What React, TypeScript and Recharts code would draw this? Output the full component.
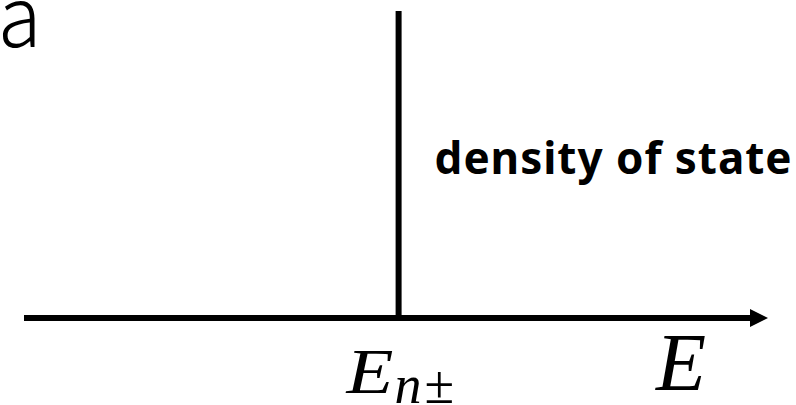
import React from 'react';
import { LineChart, Line, XAxis, YAxis, ReferenceLine } from 'recharts';

// energy axis runs from AXIS_RANGE[0] to AXIS_RANGE[1]; one sharp level sits on it
const AXIS_RANGE = [-1, 1];
const LEVEL_ENERGY = [0.007];
const LEVEL_HEIGHT = [1];

const SERIF = '"Liberation Serif", "DejaVu Serif", serif';
const SANS = '"Noto Sans", "Open Sans", sans-serif';
const STROKE = 6;
const HEAD_LEN = 18;
const HEAD_HALF = 9;

// baseline points so the chart has something to scale against
const baseline = AXIS_RANGE.map((e) => ({ e, y: 0 }));

// horizontal axis line ending in a filled arrowhead
const ArrowAxis = (props: any) => {
  const { x1, y1, x2 } = props;
  return (
    <g>
      <line x1={x1} y1={y1} x2={x2 - HEAD_LEN + 1} y2={y1} stroke="#000" strokeWidth={STROKE} />
      <polygon
        points={`${x2},${y1} ${x2 - HEAD_LEN},${y1 - HEAD_HALF} ${x2 - HEAD_LEN},${y1 + HEAD_HALF}`}
        fill="#000"
      />
    </g>
  );
};

const AxisLabel = (props: any) => {
  const vb = props.viewBox;
  if (!vb) return null;
  return (
    <text x={vb.x + vb.width - 112} y={vb.y + 72} fontFamily={SERIF} fontStyle="italic" fontSize={82} fill="#000">
      E
    </text>
  );
};

const LevelLabels = (props: any) => {
  const vb = props.viewBox;
  if (!vb) return null;
  const cx = vb.x + vb.width / 2;
  const bottom = vb.y + vb.height;
  return (
    <g>
      <text
        x={cx + 36}
        y={vb.y + 163}
        fontFamily={SANS}
        fontWeight={700}
        fontSize={44}
        textLength={357}
        lengthAdjust="spacing"
        fill="#000"
      >
        density of state
      </text>
      <text
        transform={`translate(${cx - 52},${bottom + 75}) scale(1.2,1)`}
        fontFamily={SERIF}
        fontStyle="italic"
        fontSize={64}
        fill="#000"
      >
        E
      </text>
      <text x={cx - 4} y={bottom + 85} fontFamily={SERIF} fontStyle="italic" fontSize={54} fill="#000">
        n
        <tspan fontStyle="normal" dx={3}>±</tspan>
      </text>
    </g>
  );
};

export default function App() {
  const level = LEVEL_ENERGY[0];
  return (
    <div style={{ position: 'absolute', left: 0, top: 0, width: 796, height: 405, background: '#fff' }}>
      <LineChart width={796} height={405} data={baseline} margin={{ top: 11, right: 28, bottom: 87, left: 24 }}>
        <XAxis type="number" dataKey="e" domain={AXIS_RANGE} hide />
        <YAxis type="number" domain={[0, LEVEL_HEIGHT[0]]} hide />
        <Line dataKey="y" stroke="none" dot={false} isAnimationActive={false} />
        <ReferenceLine
          segment={[{ x: AXIS_RANGE[0], y: 0 }, { x: AXIS_RANGE[1], y: 0 }]}
          shape={ArrowAxis}
          label={{ content: AxisLabel }}
        />
        <ReferenceLine
          segment={[{ x: level, y: 0 }, { x: level, y: LEVEL_HEIGHT[0] }]}
          stroke="#000"
          strokeWidth={STROKE}
          label={{ content: LevelLabels }}
        />
      </LineChart>
      <div
        style={{
          position: 'absolute',
          left: -2,
          top: -20,
          fontFamily: '"Noto Sans CJK JP", "Noto Sans", sans-serif',
          fontWeight: 300,
          fontSize: 72,
          lineHeight: 1,
          color: '#000',
          transform: 'scale(1.1, 1.16)',
          transformOrigin: '0 67px',
        }}
      >
        a
      </div>
    </div>
  );
}
